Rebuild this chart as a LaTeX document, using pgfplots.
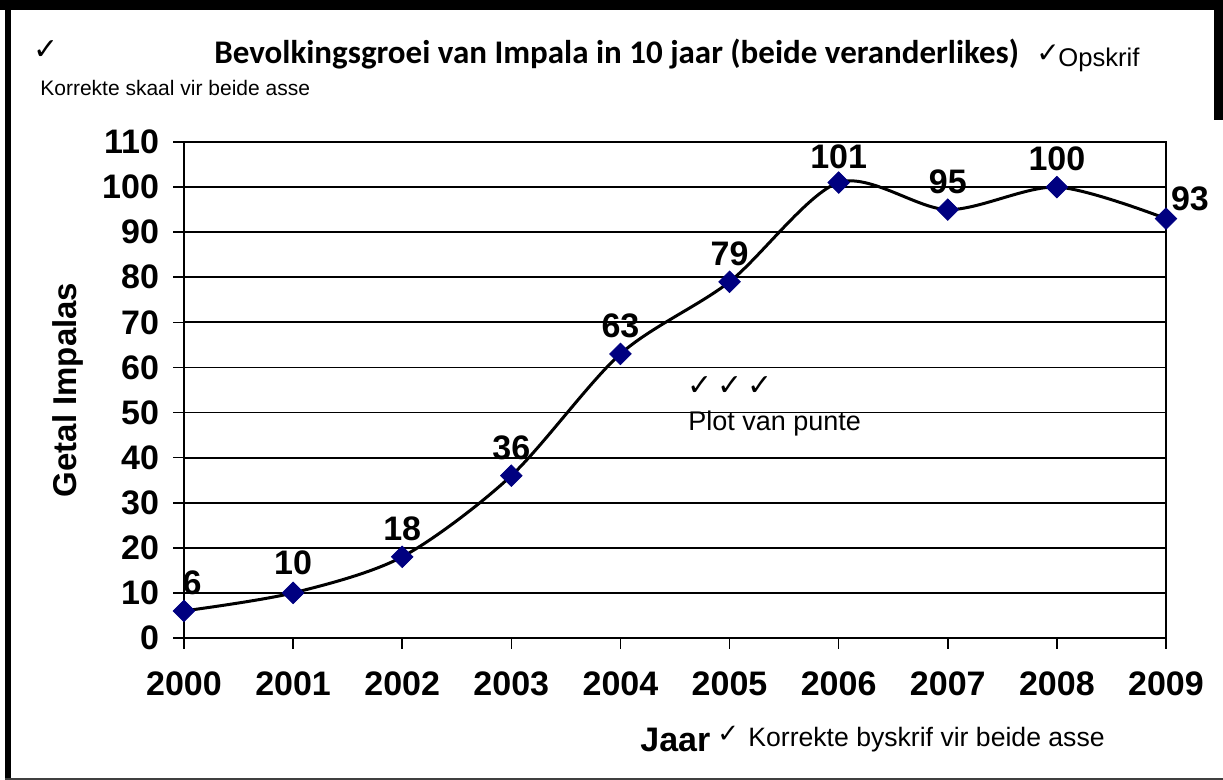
\documentclass[border=0pt]{standalone}
\usepackage{pgfplots}
\pgfplotsset{compat=1.18}
\usepackage{fontspec}
\setmainfont{Liberation Sans}
\newfontfamily\titlefont{Carlito}
\newfontfamily\checkfont{DejaVu Sans}
\definecolor{navy}{RGB}{0,0,128}
\begin{document}
\begin{tikzpicture}
\begin{scope}[shift={(-92pt,319pt)},x=0.5pt,y=-0.5pt]
\useasboundingbox (0,0) rectangle (1223,780);
% frame
\fill[black] (0,0) rectangle (1223,10);
\fill[black] (5,0) rectangle (11,780);
\fill[black] (1214,0) rectangle (1223,120);
\draw[line width=1pt,black!75] (5,779) -- (1223,779);
% texts
\node[font=\checkfont\fontsize{15}{17}\selectfont,inner sep=0pt] at (46,50) {✓};
\node[font=\titlefont\bfseries\fontsize{16.5}{19}\selectfont,anchor=west,inner sep=0pt] at (214,54) {Bevolkingsgroei van Impala in 10 jaar (beide veranderlikes)};
\node[font=\checkfont\fontsize{14}{16}\selectfont,anchor=west,inner sep=0pt] at (1036,54) {✓};
\node[font=\fontsize{12.8}{15}\selectfont,anchor=west,inner sep=0pt] at (1058,60) {Opskrif};
\node[font=\fontsize{10.5}{13}\selectfont,anchor=west,inner sep=0pt] at (40,88) {Korrekte skaal vir beide asse};
\node[font=\bfseries\fontsize{16.5}{19}\selectfont,rotate=90] at (68,390) {Getal Impalas};
\node[font=\bfseries\fontsize{17}{20}\selectfont,anchor=west,inner sep=0pt] at (640,740) {Jaar};
\node[font=\checkfont\fontsize{13}{15}\selectfont,anchor=west,inner sep=0pt] at (717,734) {✓};
\node[font=\fontsize{13.3}{15}\selectfont,anchor=west,inner sep=0pt] at (748,740) {Korrekte byskrif vir beide asse};
\node[font=\checkfont\fontsize{15}{17}\selectfont,anchor=west,inner sep=0pt] at (687,386) {✓\,✓\,✓};
\node[font=\fontsize{13.5}{15}\selectfont,anchor=west,inner sep=0pt] at (688,424) {Plot van punte};
\end{scope}
\begin{axis}[
  at={(0,0)}, anchor=south west,
  scale only axis, width=491pt, height=248pt,
  xmin=2000, xmax=2009, ymin=0, ymax=110,
  xtick={2000,2001,...,2009}, ytick={0,10,...,110},
  axis line style={line width=1.3pt},
  ymajorgrids, grid style={line width=0.9pt,black},
  tick align=outside, major tick length=5.5pt,
  tick style={line width=0.8pt,black},
  xtick pos=bottom, ytick pos=left,
  x tick label style={/pgf/number format/1000 sep={}},
  /pgf/number format/assume math mode=true,
  tick label style={font=\bfseries\fontsize{17}{20}\selectfont},
  yticklabel style={xshift=-3.5pt},
  xticklabel style={yshift=-8pt},
  clip=false,
]
\addplot[line width=1.5pt, black, smooth, tension=0.5,
  mark=square*, mark size=3.8pt,
  mark options={rotate=45, fill=navy, draw=navy, line width=0.4pt, solid},
  visualization depends on={\thisrow{dx} \as \dx},
  visualization depends on={\thisrow{dy} \as \dy},
  nodes near coords,
  every node near coord/.append style={font=\bfseries\fontsize{17}{20}\selectfont, anchor=center, xshift=\dx pt, yshift=\dy pt, black},
  point meta=explicit symbolic,
] table[x=x,y=y,meta=y] {
x y dx dy
2000 6 4 14
2001 10 0 15
2002 18 0 14
2003 36 0 14
2004 63 0 14
2005 79 0 14
2006 101 0 13
2007 95 0 14
2008 100 0 14
2009 93 12 10
};
\end{axis}
\end{tikzpicture}
\end{document}
